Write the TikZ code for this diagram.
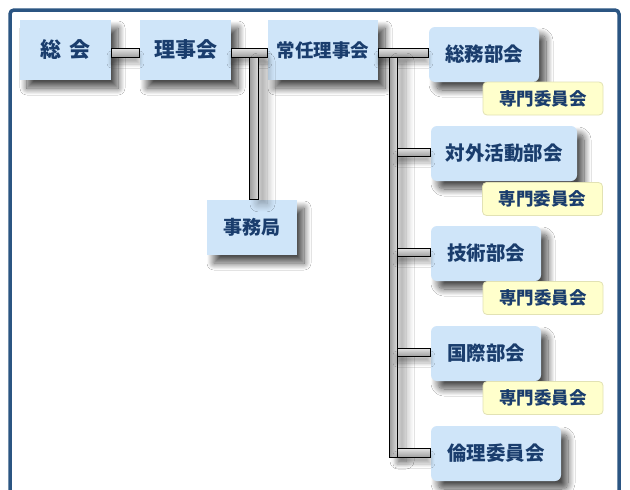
\documentclass[tikz,border=0pt]{standalone}
\usepackage{fontspec}
\newfontfamily\jp{Noto Sans CJK JP}
\usetikzlibrary{shadows.blur,calc}
\definecolor{frameblue}{HTML}{2B5582}
\definecolor{boxblue}{HTML}{CFE5F9}
\definecolor{txtblue}{HTML}{1A3D6D}
\definecolor{paleyellow}{HTML}{FFFFCC}
\definecolor{yellowedge}{HTML}{E2E2B4}
\tikzset{
  x=1pt, y=-1pt,
  orgbox/.style={fill=boxblue, text=txtblue, inner sep=0pt,
    blur shadow={shadow xshift=7pt, shadow yshift=-8pt, shadow blur steps=14, shadow blur radius=7pt, shadow opacity=70}},
  sqbox/.style={orgbox},
  rdbox/.style={orgbox, rounded corners=6pt, minimum height=55pt, font=\jp\bfseries\fontsize{19.5}{19.5}\selectfont},
  subbox/.style={fill=paleyellow, draw=yellowedge, line width=0.8pt, rounded corners=4pt,
    text=txtblue, font=\jp\bfseries\fontsize{17.5}{17.5}\selectfont, inner sep=0pt,
    minimum width=120pt, minimum height=33pt},
  hbar/.style={draw=black, line width=0.9pt, top color=gray!20, bottom color=gray!75,
    blur shadow={shadow xshift=0pt, shadow yshift=-7pt, shadow blur steps=8, shadow blur radius=4pt, shadow opacity=30}},
  vbar/.style={draw=black, line width=0.9pt, left color=gray!80, right color=gray!30,
    blur shadow={shadow xshift=9pt, shadow yshift=-4pt, shadow blur steps=10, shadow blur radius=8pt, shadow opacity=35}},
}
\begin{document}
\begin{tikzpicture}
\useasboundingbox (0,0) rectangle (630,490);
\fill[white] (0,0) rectangle (630,490);
\draw[frameblue, line width=3.5pt, rounded corners=4pt] (10,500) -- (10,10) -- (619,10) -- (619,500);

\path
  (65.5,50)   node[sqbox, minimum width=91pt, minimum height=60pt, font=\jp\bfseries\fontsize{21}{21}\selectfont] (soukai) {総\hspace{0.35em}会}
  (185.5,50)  node[sqbox, minimum width=91pt, minimum height=60pt, font=\jp\bfseries\fontsize{21}{21}\selectfont] (riji) {理事会}
  (323,50)    node[sqbox, minimum width=110pt, minimum height=60pt, font=\jp\bfseries\fontsize{18.5}{18.5}\selectfont] (jonin) {常任理事会}
  (252,227.5) node[sqbox, minimum width=90pt, minimum height=55pt, font=\jp\bfseries\fontsize{19}{19}\selectfont] (jimu) {事務局}
  (484,54.5)  node[rdbox, minimum width=110pt] (soumu) {総務部会}
  (504,153.5) node[rdbox, minimum width=146pt] (taigai) {対外活動部会}
  (486,253.5) node[rdbox, minimum width=110pt] (gijutsu) {技術部会}
  (486,353.5) node[rdbox, minimum width=110pt] (kokusai) {国際部会}
  (496,453.5) node[rdbox, minimum width=130pt] (rinri) {倫理委員会};

\coordinate (hbt) at (0,48);
\coordinate (hbb) at (0,57);
\coordinate (vl) at (389,0);
\coordinate (vr) at (397,0);

% main horizontal line
\path[hbar] (soukai.east |- hbt) rectangle (riji.west |- hbb);
\path[hbar] (riji.east |- hbt) rectangle (jonin.west |- hbb);
\path[hbar] (jonin.east |- hbt) rectangle (soumu.west |- hbb);
% to secretariat
\path[vbar] ($(jimu.north |- hbb)+(-3,0)$) rectangle ($(jimu.north)+(6,0)$);
% main vertical line
\path[vbar] (vl |- hbb) rectangle ($(vr |- rinri.west)+(0,3.5)$);
% stubs
\path[hbar] ($(vr |- taigai.west)+(0,-5.5)$) rectangle ($(taigai.west)+(0,2.5)$);
\path[hbar] ($(vr |- gijutsu.west)+(0,-5.5)$) rectangle ($(gijutsu.west)+(0,2.5)$);
\path[hbar] ($(vr |- kokusai.west)+(0,-5.5)$) rectangle ($(kokusai.west)+(0,2.5)$);
\path[hbar] ($(vr |- rinri.west)+(0,-5.5)$) rectangle ($(rinri.west)+(0,3.5)$);

\path
  (543,98.5)  node[subbox] (sub1) {専門委員会}
  (542.5,199) node[subbox] (sub2) {専門委員会}
  (543,298)   node[subbox] (sub3) {専門委員会}
  (543,398)   node[subbox] (sub4) {専門委員会};
\end{tikzpicture}
\end{document}
